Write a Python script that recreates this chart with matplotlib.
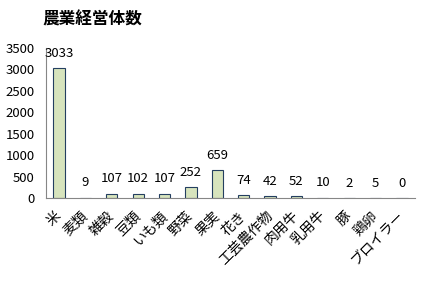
import matplotlib.pyplot as plt

plt.rcParams['font.family'] = ['Noto Sans CJK JP', 'DejaVu Sans']

categories = ['米', '麦類', '雑穀', '豆類', 'いも類', '野菜', '果実', '花き',
              '工芸農作物', '肉用牛', '乳用牛', '豚', '鶏卵', 'ブロイラー']
values = [3033, 9, 107, 102, 107, 252, 659, 74, 42, 52, 10, 2, 5, 0]
yticks = [0, 500, 1000, 1500, 2000, 2500, 3000, 3500]

fig = plt.figure(figsize=(4.21, 2.81), dpi=100)
ax = fig.add_axes([0.109, 0.295, 0.877, 0.534])

x = list(range(len(categories)))
ax.bar(x, values, width=0.43, color='#d7e4bd', edgecolor='#243f60', linewidth=0.8)

for xi, v in zip(x, values):
    ax.annotate(str(v), (xi, v), xytext=(0, 6), textcoords='offset points',
                ha='center', va='bottom', fontsize=9.5)

ax.set_ylim(0, 3500)
ax.set_xlim(-0.5, len(categories) - 0.5)
ax.set_yticks(yticks)
ax.set_yticklabels([str(t) for t in yticks], fontsize=9.5)
ax.set_xticks(x)
ax.set_xticklabels(categories, rotation=45, ha='right', va='center',
                   rotation_mode='anchor', fontsize=10)
ax.tick_params(axis='y', length=0, pad=8)
ax.tick_params(axis='x', length=0, pad=11)

for s in ['top', 'right']:
    ax.spines[s].set_visible(False)
ax.spines['left'].set_color('#868686')
ax.spines['bottom'].set_color('#868686')

fig.text(0.1, 0.93, '農業経営体数', fontsize=12, fontweight='bold', va='center')

fig.savefig('out.png', dpi=100)
